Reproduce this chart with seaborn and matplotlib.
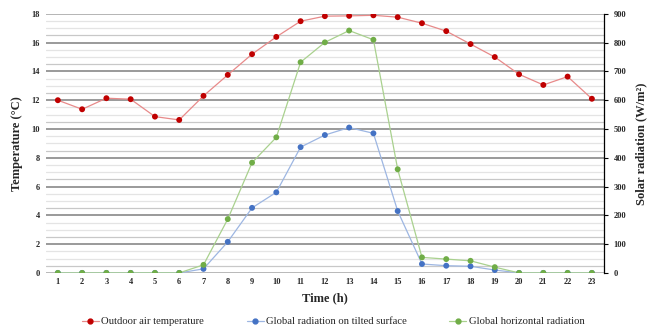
import numpy as np
import pandas as pd
import matplotlib
matplotlib.use("Agg")
import matplotlib.pyplot as plt
import seaborn as sns
from matplotlib.lines import Line2D

hours = list(range(1, 24))
outdoor_temp = [12.0, 11.37, 12.14, 12.07, 10.86, 10.63, 12.3, 13.76, 15.2, 16.4, 17.49, 17.84,
                17.86, 17.9, 17.77, 17.35, 16.8, 15.9, 15.0, 13.8, 13.06, 13.64, 12.1]
tilted_rad = [0, 0, 0, 0, 0, 0, 14, 108, 226, 280, 437, 479,
              505, 485, 215, 31, 25, 23, 10, 0, 0, 0, 0]
horizontal_rad = [0, 0, 0, 0, 0, 0, 28, 187, 383, 471, 732, 801,
                  842, 810, 360, 54, 48, 42, 20, 0, 0, 0, 0]

labels = ["Outdoor air temperature", "Global radiation on tilted surface", "Global horizontal radiation"]
colors = ["#C00000", "#4472C4", "#70AD47"]
line_colors = ["#E88A8A", "#9DB6E2", "#A9D18E"]

df = pd.DataFrame({"hour": hours, "temp": outdoor_temp,
                   "tilted": tilted_rad, "horiz": horizontal_rad})

sns.set_theme(style="white")
plt.rcParams["font.family"] = ["Liberation Serif", "DejaVu Serif"]

fig = plt.figure(figsize=(6.53, 3.30), dpi=100)
ax = fig.add_axes([0.070, 0.173, 0.855, 0.785])
ax2 = ax.twinx()

# temperature on the left axis
sns.lineplot(data=df, x="hour", y="temp", ax=ax, color=line_colors[0], lw=0.9, zorder=3)
sns.scatterplot(data=df, x="hour", y="temp", ax=ax, color=colors[0], s=18, edgecolor="none", zorder=4)

# radiation on the right axis
sns.lineplot(data=df, x="hour", y="tilted", ax=ax2, color=line_colors[1], lw=0.9, zorder=3)
sns.scatterplot(data=df, x="hour", y="tilted", ax=ax2, color=colors[1], s=18, edgecolor="none", zorder=4)
sns.lineplot(data=df, x="hour", y="horiz", ax=ax2, color=line_colors[2], lw=0.9, zorder=3)
sns.scatterplot(data=df, x="hour", y="horiz", ax=ax2, color=colors[2], s=18, edgecolor="none", zorder=4)

ax.set_xlim(0.5, 23.5)
ax.set_ylim(0, 18)
ax2.set_ylim(0, 900)

# grid: faint lines every 0.5 °C, a darker line every 2 °C
for v in np.arange(0.5, 18.01, 0.5):
    r = v % 2
    if abs(r) < 1e-9 or abs(r - 2) < 1e-9:
        color, lw = "#7F7F7F", 1.1
    elif abs(r - 0.5) < 1e-9:
        color, lw = "#C8C8C8", 0.9
    else:
        color, lw = "#E4E4E4", 0.9
    ax.axhline(v, color=color, lw=lw, zorder=1)
ax.axhline(18, color="#BFBFBF", lw=1.1, zorder=1)
ax.axhline(0, color="#A6A6A6", lw=1.1, zorder=1)

ax.set_xticks(hours)
ax.set_yticks(np.arange(0, 19, 2))
ax2.set_yticks(np.arange(0, 901, 100))
tick_font = dict(fontsize=6, fontweight="bold")
ax.set_xticklabels([str(h) for h in hours], **tick_font)
ax.set_yticklabels([str(int(v)) for v in np.arange(0, 19, 2)], **tick_font)
ax2.set_yticklabels([str(int(v)) for v in np.arange(0, 901, 100)], **tick_font)
ax.tick_params(axis="both", length=0, pad=4)
ax2.tick_params(axis="y", length=3, width=0.8, color="black", pad=4, direction="out")

for a in (ax, ax2):
    for s in ("top", "left", "bottom"):
        a.spines[s].set_visible(False)
ax2.spines["right"].set_visible(True)
ax2.spines["right"].set_color("black")
ax2.spines["right"].set_linewidth(0.9)
ax.spines["right"].set_visible(False)

ax.set_xlabel("Time (h)", fontsize=9, fontweight="bold", labelpad=4)
ax.set_ylabel("Temperature (°C)", fontsize=9, fontweight="bold", labelpad=6)
ax2.set_ylabel("Solar radiation (W/m²)", fontsize=9, fontweight="bold", labelpad=6)

handles = [Line2D([0], [0], color=lc, lw=0.9, marker="o", markersize=3.5,
                  markerfacecolor=c, markeredgecolor=c)
           for c, lc in zip(colors, line_colors)]
fig.legend(handles, labels, loc="center", bbox_to_anchor=(0.51, 0.025), ncol=3,
           frameon=False, fontsize=7.7, handlelength=1.6, handletextpad=0.2, columnspacing=4.0)

fig.savefig("out.png", dpi=100)
